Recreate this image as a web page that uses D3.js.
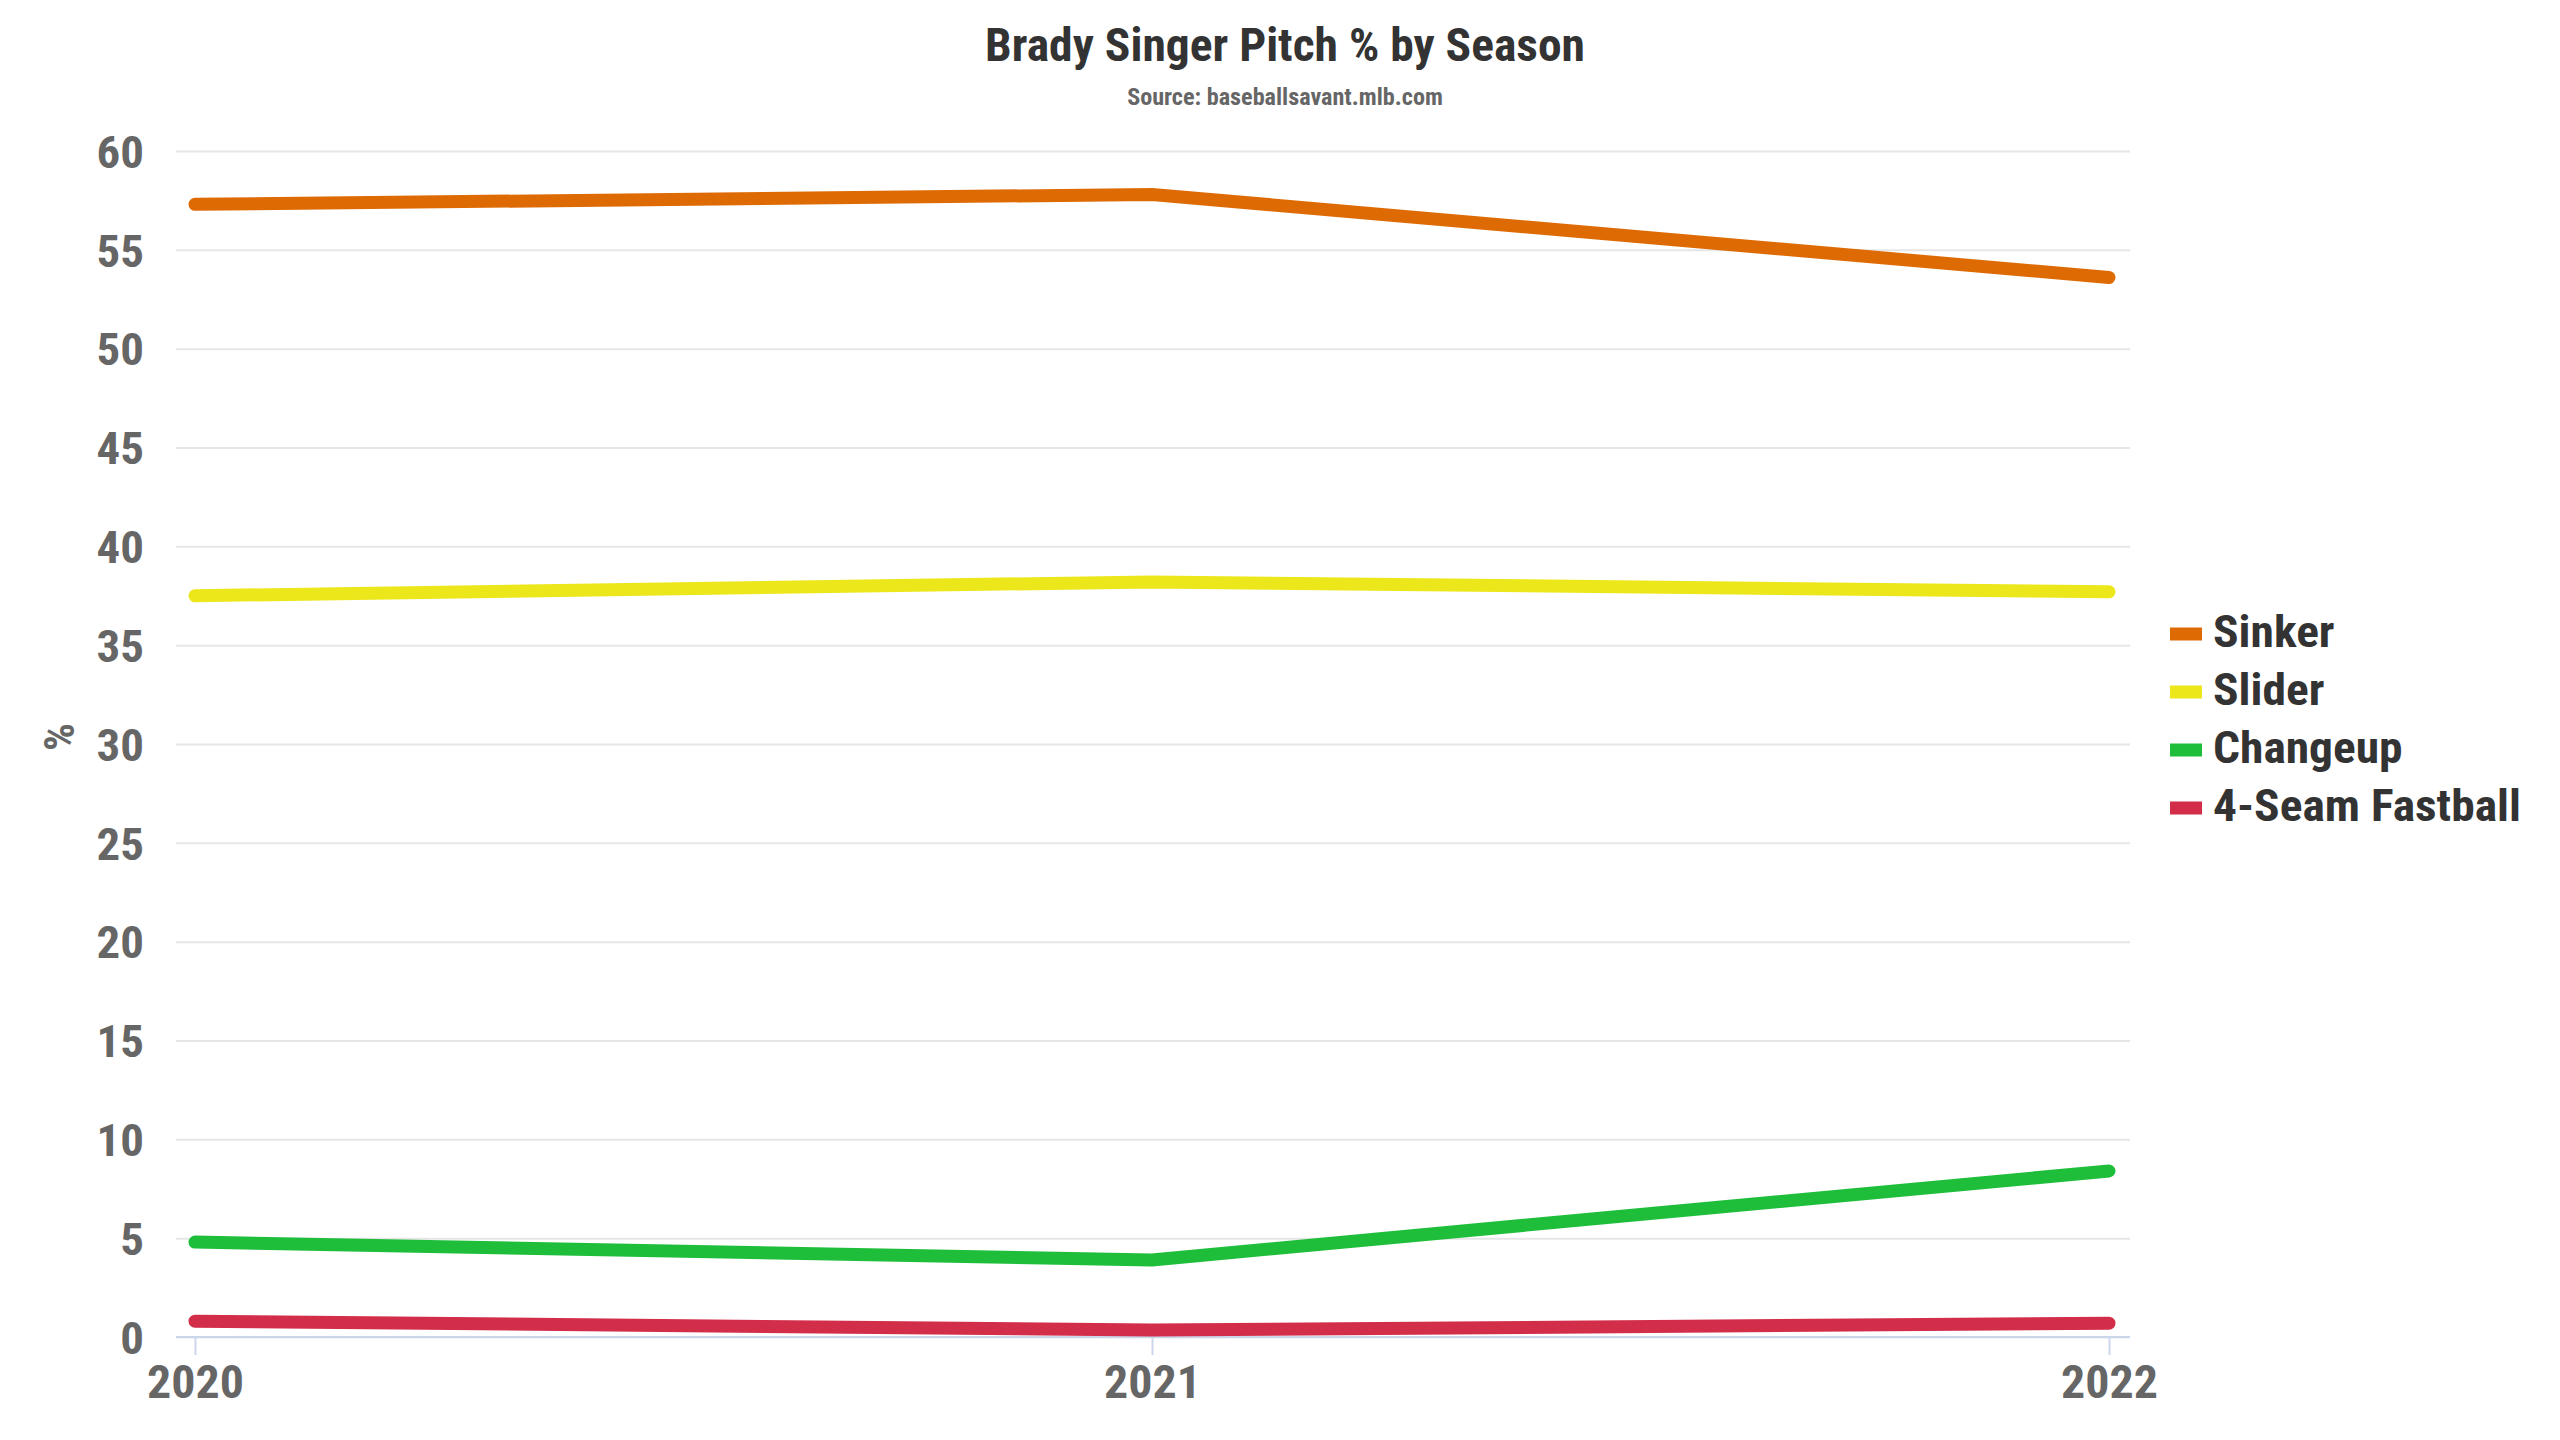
<!DOCTYPE html>
<html>
<head>
<meta charset="utf-8">
<title>Brady Singer Pitch % by Season</title>
<script src="https://cdn.jsdelivr.net/npm/d3@7"></script>
<style>
    body {margin:0; background:#fff;}
    text {font-family:"Roboto Condensed","Liberation Sans Narrow",Roboto,sans-serif; font-weight:700;}
    .grid line {stroke:#e6e6e6; stroke-width:2px;}
    .grid path {display:none;}
    .series {fill:none; stroke-width:13px; stroke-linecap:round; stroke-linejoin:round;}
</style>
</head>
<body>
<svg id="chart" width="2560" height="1440"></svg>
<script>
// data
var seasons = [2020, 2021, 2022];
var pitchNames = ["Sinker", "Slider", "Changeup", "4-Seam Fastball"];
var pitchColors = ["#de6a04", "#ece71a", "#1ebe3b", "#d22d49"];
var sinker = [57.3, 57.8, 53.6];
var slider = [37.5, 38.2, 37.7];
var changeup = [4.8, 3.9, 8.4];
var fourSeam = [0.8, 0.35, 0.7];
var yTicks = [0, 5, 10, 15, 20, 25, 30, 35, 40, 45, 50, 55, 60];

var seriesValues = [sinker, slider, changeup, fourSeam];

var svg = d3.select("#chart");
var plot = {left: 176, right: 2130, top: 151, bottom: 1337};

// the original uses a condensed face; work out how much to stretch/squeeze ours
function fitScale(str, size, target) {
    var probe = svg.append("text").style("font-size", size + "px").text(str);
    var w = probe.node().getComputedTextLength();
    probe.remove();
    return target / w;
}
var kDigits = fitScale("2020", 46, 97);
var kLegend = fitScale("4-Seam Fastball", 45, 308);
var kTitle = fitScale("Brady Singer Pitch % by Season", 46, 600);
var kSub = fitScale("Source: baseballsavant.mlb.com", 24, 316);

function label(x, y, str, size, color, anchor, k) {
    return svg.append("text")
        .attr("transform", "translate(" + x + "," + y + ") scale(" + k + ",1)")
        .attr("text-anchor", anchor || "start")
        .style("font-size", size + "px")
        .style("fill", color)
        .text(str);
}

var x = d3.scaleLinear().domain([2020, 2022]).range([plot.left + 19, plot.right - 21]);
var y = d3.scaleLinear().domain([0, 60]).range([plot.bottom, plot.top]);

// gridlines
svg.append("g")
    .attr("class", "grid")
    .attr("transform", "translate(" + plot.left + ",0)")
    .call(d3.axisLeft(y).tickValues(yTicks).tickSize(-(plot.right - plot.left)).tickFormat(""));

// y labels
var yAxis = svg.append("g")
    .attr("transform", "translate(" + plot.left + ",0)")
    .call(d3.axisLeft(y).tickValues(yTicks).tickSize(0).tickPadding(32));
yAxis.select(".domain").remove();
yAxis.selectAll("text")
    .attr("x", -32 / kDigits)
    .attr("dy", "0.36em")
    .attr("transform", "scale(" + kDigits + ",1)")
    .style("font-size", "45px")
    .style("fill", "#666")
    .style("font-family", null);

// x axis
var xAxis = svg.append("g")
    .attr("transform", "translate(0," + plot.bottom + ")")
    .call(d3.axisBottom(x).tickValues(seasons).tickFormat(d3.format("d")).tickSize(18).tickPadding(0));
xAxis.select(".domain")
    .attr("d", "M" + plot.left + ",0H" + plot.right)
    .style("stroke", "#ccd6eb").style("stroke-width", "2px");
xAxis.selectAll(".tick line").style("stroke", "#ccd6eb").style("stroke-width", "2px");
xAxis.selectAll("text")
    .attr("y", 61)
    .attr("dy", null)
    .attr("transform", "scale(" + kDigits + ",1)")
    .style("font-size", "46px")
    .style("fill", "#666")
    .style("font-family", null);

// lines
var line = d3.line()
    .x(function (d, i) { return x(seasons[i]); })
    .y(function (d) { return y(d); });

svg.append("g").selectAll("path")
    .data(seriesValues)
    .join("path")
    .attr("class", "series")
    .attr("d", line)
    .style("stroke", function (d, i) { return pitchColors[i]; });

// titles
label(1285, 61, "Brady Singer Pitch % by Season", 46, "#333", "middle", kTitle);
label(1285, 105, "Source: baseballsavant.mlb.com", 24, "#666", "middle", kSub);

svg.append("text")
    .attr("transform", "translate(74,737) rotate(-90) scale(" + kDigits + ",1)")
    .attr("text-anchor", "middle")
    .style("font-size", "42px")
    .style("fill", "#666")
    .text("%");

// legend
pitchNames.forEach(function (name, i) {
    var baseY = 647 + i * 58;
    svg.append("rect")
        .attr("x", 2170).attr("y", baseY - 19.5)
        .attr("width", 32).attr("height", 13)
        .style("fill", pitchColors[i]);
    label(2213, baseY, name, 45, "#333", "start", kLegend);
});
</script>
</body>
</html>
